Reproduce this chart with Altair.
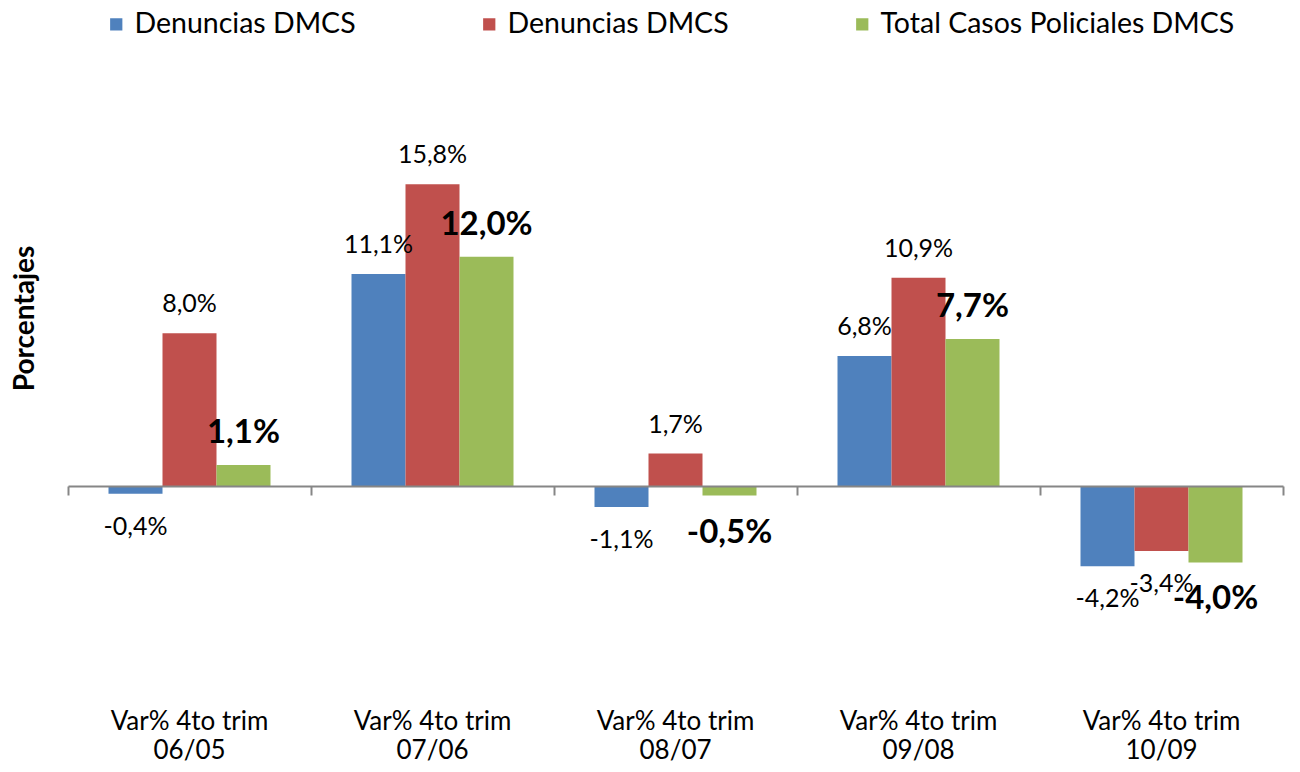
import altair as alt
import pandas as pd

# ---- data ----
periods = ["06/05", "07/06", "08/07", "09/08", "10/09"]
period_prefix = "Var% 4to trim"
series_keys = ["s1", "s2", "s3"]
series_names = ["Denuncias DMCS", "Denuncias DMCS", "Total Casos Policiales DMCS"]
series_colors = ["#4F81BD", "#C0504D", "#9BBB59"]
s1_values = [-0.4, 11.1, -1.1, 6.8, -4.2]
s2_values = [8.0, 15.8, 1.7, 10.9, -3.4]
s3_values = [1.1, 12.0, -0.5, 7.7, -4.0]
y_title = "Porcentajes"

rows = []
for key, vals in zip(series_keys, [s1_values, s2_values, s3_values]):
    for p, v in zip(periods, vals):
        rows.append({"periodo": p, "serie": key, "valor": v, "bold": key == "s3"})
df = pd.DataFrame(rows)

FONT = "Lato"
GRAY = "#868686"

legend_expr = " : ".join(
    f"datum.label == '{k}' ? '{n}'" for k, n in zip(series_keys, series_names)
) + " : datum.label"

x_scale = alt.Scale(paddingInner=0, paddingOuter=0)
x_enc_labels = alt.X(
    "periodo:N",
    sort=periods,
    scale=x_scale,
    axis=alt.Axis(
        title=None, orient="bottom", domain=False, ticks=False, tickSize=0,
        labelAngle=0, labelFont=FONT, labelFontSize=26, labelColor="black",
        labelPadding=31, labelLineHeight=29,
        labelExpr=f"['{period_prefix}', datum.label]", grid=False,
    ),
)
x_enc_zero = alt.X(
    "periodo:N",
    sort=periods,
    scale=x_scale,
    axis=alt.Axis(
        title=None, orient="bottom", offset=-191, labels=False, ticks=True,
        tickBand="extent", tickSize=9, tickColor=GRAY, tickWidth=2,
        domain=True, domainColor=GRAY, domainWidth=2, grid=False, zindex=1,
    ),
)
x_enc_none = alt.X("periodo:N", sort=periods, scale=x_scale, axis=None)

y_scale = alt.Scale(domain=[-10, 20], nice=False, zero=False)
y_enc = alt.Y(
    "valor:Q",
    scale=y_scale,
    axis=alt.Axis(
        title=y_title, labels=False, ticks=False, domain=False, grid=False,
        titleFont=FONT, titleFontSize=28, titleFontWeight="bold",
        titleColor="black", titleX=-35, titleY=214, titleAngle=-90,
        titleBaseline="alphabetic", titleAlign="center",
    ),
)

xoff = alt.XOffset(
    "serie:N", sort=series_keys,
    scale=alt.Scale(paddingInner=0, paddingOuter=0.75),
)
color = alt.Color(
    "serie:N",
    sort=series_keys,
    scale=alt.Scale(domain=series_keys, range=series_colors),
    legend=alt.Legend(
        title=None, orient="none", legendX=34, legendY=-94, direction="horizontal",
        columns=3, labelExpr=legend_expr, labelFont=FONT, labelFontSize=28.5,
        labelColor="black", labelLimit=600, symbolType="square", symbolSize=150,
        symbolStrokeWidth=0, columnPadding=119, labelOffset=4,
    ),
)

base = alt.Chart(df)

bars = base.mark_bar(size=54).encode(
    x=x_enc_labels, xOffset=xoff, y=y_enc, color=color
)

label_expr = (
    "(datum.valor < 0 ? '-' : '') + "
    "replace(format(abs(datum.valor), '.1f'), '.', ',') + '%'"
)
tbase = base.transform_calculate(lbl=label_expr)


def text_layer(is_bold, positive, dy, size):
    filt = (
        f"datum.bold == {'true' if is_bold else 'false'} && "
        f"datum.valor {'>=' if positive else '<'} 0"
    )
    return tbase.transform_filter(filt).mark_text(
        font=FONT, fontSize=size, fontWeight="bold" if is_bold else "normal",
        color="black", baseline="middle", align="center", dy=dy,
    ).encode(
        x=x_enc_none, xOffset=xoff, y=y_enc, text="lbl:N",
    )


t1 = text_layer(False, True, -29, 25)
t2 = text_layer(False, False, 33, 25)
t3 = text_layer(True, True, -32, 33)
t4 = text_layer(True, False, 37, 33)

zero_axis = base.mark_tick(opacity=0).encode(x=x_enc_zero, y=y_enc)

chart = alt.layer(bars, t1, t2, t3, t4, zero_axis).resolve_axis(
    x="independent"
).properties(
    width=1215, height=573,
    background="white",
    autosize=alt.AutoSizeParams(type="none"),
    padding={"left": 60, "top": 96, "right": 9, "bottom": 87},
).configure_view(stroke=None)

chart.save("out.html", embed_options={"renderer": "svg", "actions": False})
